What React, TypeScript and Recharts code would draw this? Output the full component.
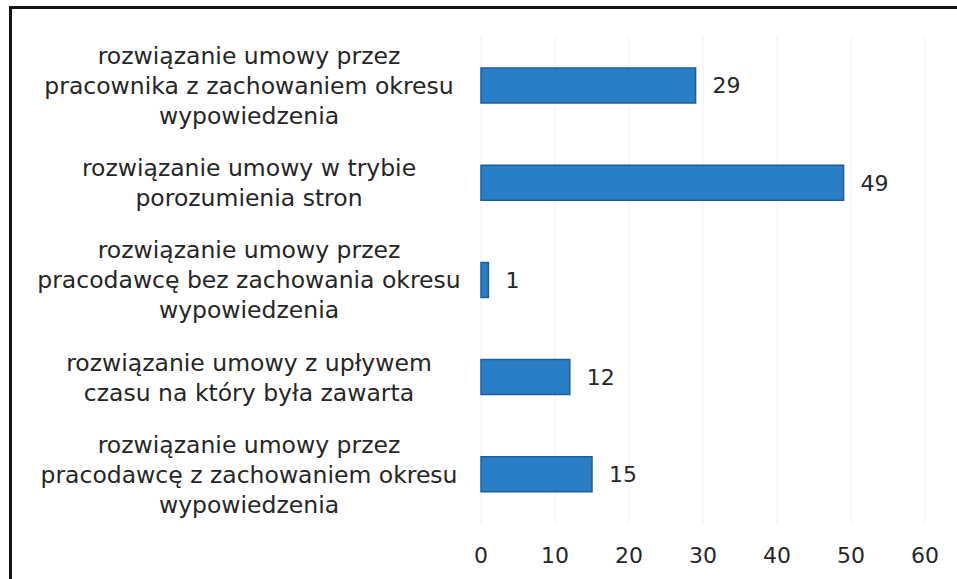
import React from 'react';
import { BarChart, Bar, XAxis, YAxis, CartesianGrid, LabelList } from 'recharts';

const categories = [
  'rozwiązanie umowy przez\npracownika z zachowaniem okresu\nwypowiedzenia',
  'rozwiązanie umowy w trybie\nporozumienia stron',
  'rozwiązanie umowy przez\npracodawcę bez zachowania okresu\nwypowiedzenia',
  'rozwiązanie umowy z upływem\nczasu na który była zawarta',
  'rozwiązanie umowy przez\npracodawcę z zachowaniem okresu\nwypowiedzenia',
];
const values = [29, 49, 1, 12, 15];
const xTicks = [0, 10, 20, 30, 40, 50, 60];

const data = categories.map((name, i) => ({ name, value: values[i] }));

const FONT = '"DejaVu Sans", Verdana, sans-serif';

const YTick = (props: any) => {
  const { x, y, payload } = props;
  const lines: string[] = String(payload.value).split('\n');
  const lh = 30;
  const start = -((lines.length - 1) * lh) / 2;
  return (
    <text x={x - 232} y={y} textAnchor="middle" fontFamily={FONT} fontSize={23.5} fill="#262626">
      {lines.map((l, i) => (
        <tspan key={i} x={x - 232} y={y + start + i * lh} dy="0.36em">
          {l}
        </tspan>
      ))}
    </text>
  );
};

export default function App() {
  return (
    <div style={{ position: 'absolute', left: 0, top: 0, width: 957, height: 579, background: '#fff', overflow: 'hidden' }}>
      <div
        style={{
          position: 'absolute',
          left: 9,
          top: 6,
          width: 1000,
          height: 700,
          borderTop: '3px solid #151515',
          borderLeft: '3px solid #151515',
        }}
      />
      <div style={{ position: 'absolute', left: 0, top: 0 }}>
        <BarChart
          width={957}
          height={579}
          data={data}
          layout="vertical"
          margin={{ top: 37, right: 32, bottom: 0, left: 0 }}
          barCategoryGap={0}
        >
          <CartesianGrid horizontal={false} vertical={true} stroke="#f0f0f0" strokeWidth={1} />
          <XAxis
            type="number"
            domain={[0, 60]}
            ticks={xTicks}
            interval={0}
            axisLine={false}
            tickLine={false}
            tickSize={0}
            tickMargin={24}
            height={56}
            tick={{ fontFamily: FONT, fontSize: 22, fill: '#262626' }}
          />
          <YAxis
            type="category"
            dataKey="name"
            width={481}
            axisLine={false}
            tickLine={false}
            tickSize={0}
            tickMargin={0}
            interval={0}
            tick={<YTick />}
          />
          <Bar dataKey="value" fill="#2a7ec6" stroke="#1a5f9e" strokeWidth={1.5} barSize={35} isAnimationActive={false}>
            <LabelList dataKey="value" position="right" offset={17} fontFamily={FONT} fontSize={22} fill="#262626" />
          </Bar>
        </BarChart>
      </div>
    </div>
  );
}
